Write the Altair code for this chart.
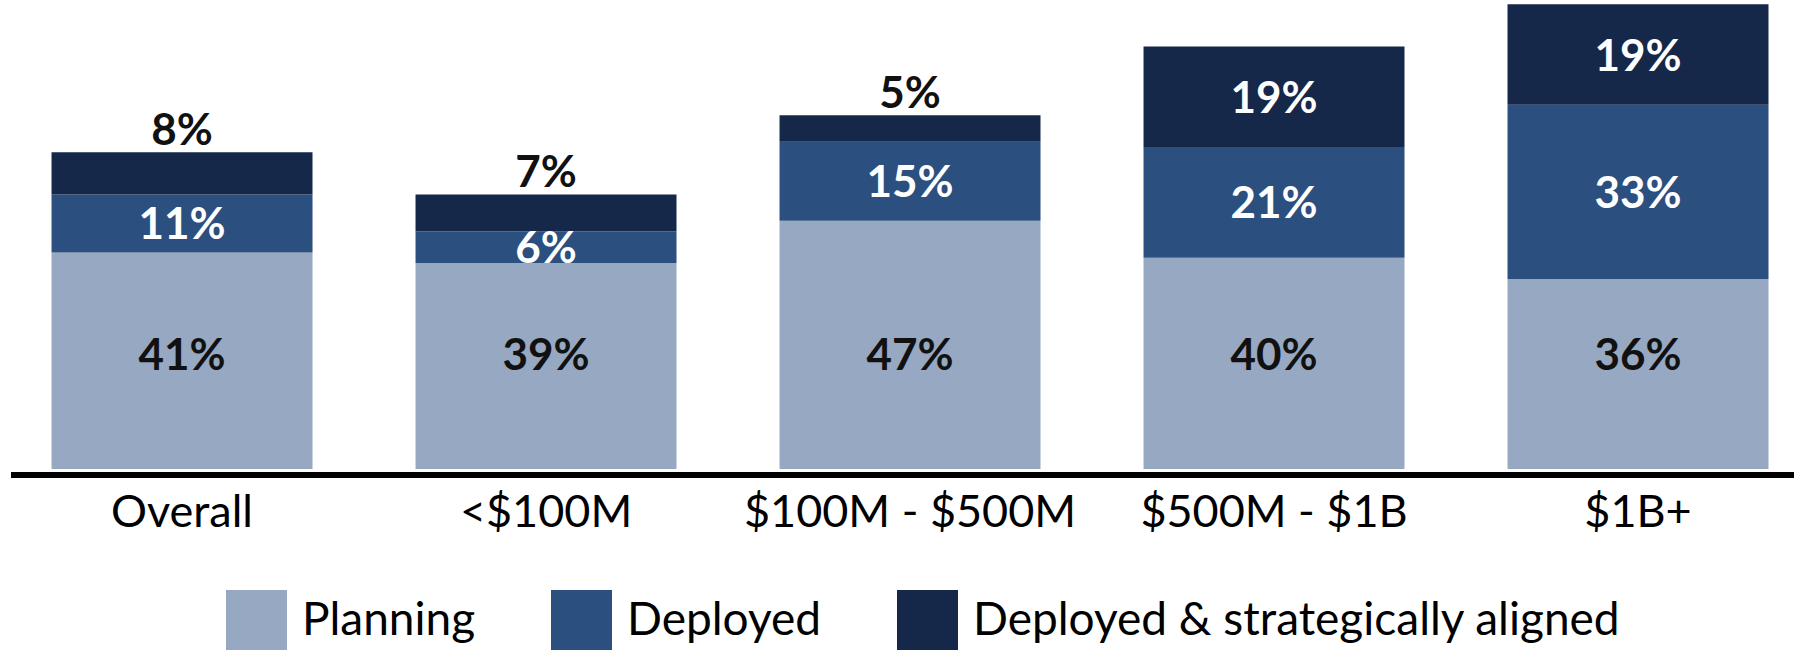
import altair as alt
import pandas as pd

categories = ["Overall", "<$100M", "$100M - $500M", "$500M - $1B", "$1B+"]
series = ["Planning", "Deployed", "Deployed & strategically aligned"]
planning = [41, 39, 47, 40, 36]
deployed = [11, 6, 15, 21, 33]
aligned = [8, 7, 5, 19, 19]
colors = ["#97A8C2", "#2B4F7E", "#16284A"]

rows = []
for i, cat in enumerate(categories):
    start = 0
    for k, (name, vals) in enumerate(zip(series, [planning, deployed, aligned])):
        v = vals[i]
        rows.append({
            "category": cat, "series": name, "value": v, "order": k,
            "start": start, "end": start + v, "mid": start + v / 2,
            "label": f"{v}%",
            "outside": (k == 2 and v < 10),
        })
        start += v
df = pd.DataFrame(rows)

W, H = 1794, 469
FONT = "Lato"
PLANNING_LABEL_Y = 21.8

x_enc = alt.X("category:N", sort=categories,
              scale=alt.Scale(paddingInner=0.283, paddingOuter=0.1058, align=0.669),
              axis=alt.Axis(title=None, domain=False, ticks=False, tickSize=0,
                            labelFont=FONT, labelFontSize=45, labelColor="#000000",
                            labelBaseline="alphabetic", labelPadding=57,
                            labelAngle=0, labelLimit=0))
y_scale = alt.Scale(domain=[0, H / 5.28], nice=False, zero=True)
x_plain = alt.X("category:N", sort=categories)

base = alt.Chart(df)

bars = base.mark_bar(strokeWidth=0).encode(
    x=x_enc,
    y=alt.Y("start:Q", scale=y_scale, axis=None),
    y2="end:Q",
    color=alt.Color("series:N", sort=series,
                    scale=alt.Scale(domain=series, range=colors),
                    legend=alt.Legend(title=None, orient="none", legendX=226, legendY=590,
                                      direction="horizontal", symbolType="square",
                                      symbolSize=3721, symbolStrokeWidth=0, symbolOpacity=1,
                                      labelFont=FONT, labelFontSize=46, labelColor="#000000",
                                      labelOffset=15, columnPadding=75, padding=0,
                                      labelLimit=0)),
)

inside = base.transform_filter(
    "datum.series != 'Planning' && !datum.outside"
).mark_text(font=FONT, fontSize=44, fontWeight="bold", color="white",
            baseline="middle", dy=3).encode(
    x=x_plain,
    y=alt.Y("mid:Q", scale=y_scale, axis=None),
    text="label:N",
)

plan_lbl = base.transform_filter(
    "datum.series == 'Planning'"
).mark_text(font=FONT, fontSize=44, fontWeight="bold", color="#111111",
            baseline="middle", dy=3).encode(
    x=x_plain,
    y=alt.datum(PLANNING_LABEL_Y, scale=y_scale, axis=None),
    text="label:N",
)

outside = base.transform_filter(
    "datum.outside"
).mark_text(font=FONT, fontSize=44, fontWeight="bold", color="#111111",
            baseline="alphabetic", dy=-7).encode(
    x=x_plain,
    y=alt.Y("end:Q", scale=y_scale, axis=None),
    text="label:N",
)

baseline_rule = alt.Chart(pd.DataFrame({"v": [0]})).mark_rule(
    color="#000000", strokeWidth=6, yOffset=6
).encode(
    y=alt.Y("v:Q", scale=y_scale, axis=None),
    x=alt.value(11), x2=alt.value(W),
)

chart = alt.layer(bars, inside, plan_lbl, outside, baseline_rule).properties(
    width=W, height=H,
    background="white",
    autosize=alt.AutoSizeParams(type="none"),
    padding={"left": 0, "top": 0, "right": 0, "bottom": 650 - H},
).configure_view(strokeWidth=0, stroke="transparent")

chart.save("out.html", embed_options={"renderer": "svg", "actions": False})
